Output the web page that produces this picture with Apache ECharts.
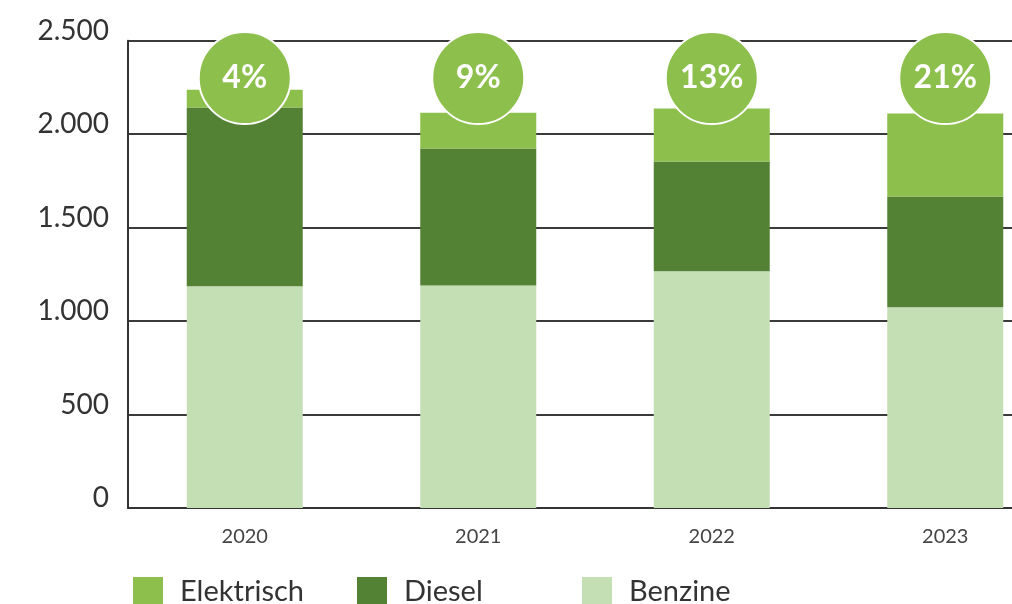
<!DOCTYPE html>
<html>
<head>
<meta charset="utf-8">
<script src="https://cdn.jsdelivr.net/npm/echarts@6/dist/echarts.min.js"></script>
<style>
  html, body { margin: 0; padding: 0; background: #fff; overflow: hidden; }
  /* the reference is cropped on the right, so the chart is drawn wider than the window */
  #chart { width: 1062px; height: 604px; }
</style>
</head>
<body>
<div id="chart"></div>
<script>
// data
const years = ["2020", "2021", "2022", "2023"];
const benzine = [1186, 1191, 1266, 1074];
const diesel = [956, 732, 588, 593];
const elektrisch = [96, 192, 283, 443];
const shares = ["4%", "9%", "13%", "21%"];
const yTicks = [0, 500, 1000, 1500, 2000, 2500];

const FONT = "Lato, 'Open Sans', sans-serif";
const colors = { Elektrisch: "#8cbf4c", Diesel: "#548235", Benzine: "#c5dfb4" };

// badge circles sit at a fixed height above the bars
const BADGE_Y = 2300;

const chart = echarts.init(document.getElementById("chart"));

const legendAt = (name, left) => ({
  data: [name],
  left: left,
  top: 572,
  itemWidth: 30,
  itemHeight: 30,
  icon: "rect",
  selectedMode: false,
  textStyle: { fontFamily: FONT, fontSize: 29, color: "#333", padding: [0, 0, 0, 12] }
});

const barSeries = (name, data) => ({
  name: name,
  type: "bar",
  stack: "total",
  barWidth: 116,
  data: data,
  itemStyle: { color: colors[name] },
  emphasis: { disabled: true }
});

chart.setOption({
  animation: false,
  grid: { left: 128, top: 40.7, bottom: 96, right: 0 },
  legend: [legendAt("Elektrisch", 128), legendAt("Diesel", 352), legendAt("Benzine", 577)],
  xAxis: {
    type: "category",
    data: years,
    axisLine: { lineStyle: { color: "#333", width: 2 } },
    axisTick: { show: false },
    axisLabel: { fontFamily: FONT, fontSize: 20, color: "#444", margin: 19 }
  },
  yAxis: {
    type: "value",
    min: 0,
    max: 2500,
    interval: 500,
    axisLine: { show: true, lineStyle: { color: "#333", width: 2 } },
    axisTick: { show: false },
    splitLine: { lineStyle: { color: "#3a3a3a", width: 2 } },
    axisLabel: {
      fontFamily: FONT,
      fontSize: 28,
      color: "#333",
      margin: 19,
      verticalAlign: "bottom",
      padding: [0, 0, -4, 0],
      formatter: v => yTicks.includes(v) ? v.toLocaleString("de-DE") : ""
    }
  },
  series: [
    barSeries("Benzine", benzine),
    barSeries("Diesel", diesel),
    barSeries("Elektrisch", elektrisch),
    {
      type: "scatter",
      symbol: "circle",
      symbolSize: 92,
      z: 5,
      data: shares.map((s, i) => ({ value: [years[i], BADGE_Y], label: s })),
      itemStyle: { color: colors.Elektrisch, opacity: 1, borderColor: "#fff", borderWidth: 2 },
      label: {
        show: true,
        position: "inside",
        formatter: p => p.data.label,
        fontFamily: FONT,
        fontSize: 32,
        fontWeight: "bold",
        color: "#fff"
      },
      emphasis: { disabled: true }
    }
  ]
});
</script>
</body>
</html>
